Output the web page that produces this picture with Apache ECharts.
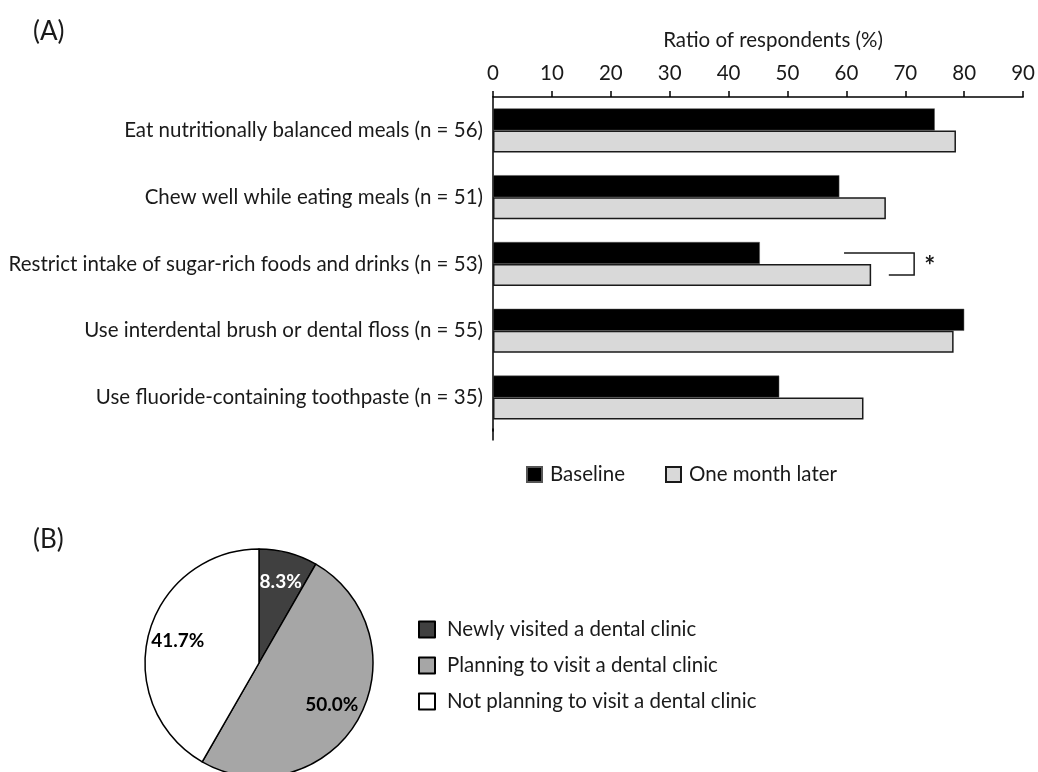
<!DOCTYPE html>
<html>
<head>
<meta charset="utf-8">
<script src="https://cdn.jsdelivr.net/npm/echarts@6/dist/echarts.min.js"></script>
<style>
html,body{margin:0;padding:0;background:#fff;}
#main{width:1038px;height:772px;}
</style>
</head>
<body>
<div id="main"></div>
<script>
// ---- data ----
const categories = [
  'Eat nutritionally balanced meals (n = 56)',
  'Chew well while eating meals (n = 51)',
  'Restrict intake of sugar-rich foods and drinks (n = 53)',
  'Use interdental brush or dental floss (n = 55)',
  'Use fluoride-containing toothpaste (n = 35)'
];
const baseline = [75.0, 58.8, 45.3, 80.0, 48.6];
const oneMonthLater = [78.6, 66.7, 64.2, 78.2, 62.9];
const xTicks = [0, 10, 20, 30, 40, 50, 60, 70, 80, 90];

const pieNames = [
  'Newly visited a dental clinic',
  'Planning to visit a dental clinic',
  'Not planning to visit a dental clinic'
];
const pieValues = [8.3, 50.0, 41.7];

// ---- style ----
const FONT = 'Lato';
const FS = 20.5;
const TXT = '#1a1a1a';
const pieColors = ['#404040', '#a6a6a6', '#ffffff'];
const pieLabelColors = ['#ffffff', '#000000', '#000000'];

const chart = echarts.init(document.getElementById('main'), null, {renderer: 'canvas'});

const pieData = pieNames.map((n, i) => ({
  name: n, value: pieValues[i],
  itemStyle: {color: pieColors[i]}
}));
const pieLabelData = pieNames.map((n, i) => ({
  name: n, value: pieValues[i],
  label: {color: pieLabelColors[i]}
}));

const option = {
  backgroundColor: '#fff',
  animation: false,
  textStyle: {fontFamily: FONT, color: TXT},
  title: [
    {text: '(A)', left: 28, top: 14, textStyle: {fontFamily: FONT, fontSize: 26, fontWeight: 'normal', color: TXT}},
    {text: '(B)', left: 28, top: 522, textStyle: {fontFamily: FONT, fontSize: 26, fontWeight: 'normal', color: TXT}}
  ],
  grid: {left: 493, top: 97, right: 10, height: 334, containLabel: false},
  xAxis: {
    type: 'value', position: 'top', min: 0, max: 90, interval: 10,
    name: 'Ratio of respondents (%)', nameLocation: 'middle', nameGap: 46,
    nameTextStyle: {fontFamily: FONT, fontSize: FS, color: TXT, padding: [0, 0, 0, 30]},
    axisLine: {show: true, lineStyle: {color: '#000', width: 1.5}},
    axisTick: {show: true, length: 6, lineStyle: {color: '#000', width: 1.5}},
    axisLabel: {fontFamily: FONT, fontSize: FS, color: TXT, margin: 13,
      formatter: v => (xTicks.indexOf(v) >= 0 ? String(v) : '')},
    splitLine: {show: false}
  },
  yAxis: {
    type: 'category', inverse: true, data: categories,
    axisLine: {show: true, lineStyle: {color: '#000', width: 1.5}},
    axisTick: {show: false},
    axisLabel: {fontFamily: FONT, fontSize: FS, color: TXT, margin: 10}
  },
  legend: [
    {
      data: ['Baseline', 'One month later'],
      left: 521, top: 459, itemWidth: 15, itemHeight: 15, itemGap: 40,
      icon: 'rect',
      textStyle: {fontFamily: FONT, fontSize: FS, color: TXT, padding: [0, 0, 0, 3]}
    },
    {
      data: pieNames, orient: 'vertical',
      left: 413, top: 614, itemWidth: 16, itemHeight: 16, itemGap: 15,
      icon: 'rect',
      textStyle: {fontFamily: FONT, fontSize: FS, color: TXT, padding: [0, 0, 0, 7]}
    }
  ],
  series: [
    {
      name: 'Baseline', type: 'bar', data: baseline,
      barWidth: 22, barGap: '0%', barCategoryGap: '34%',
      itemStyle: {color: '#000', borderColor: '#555', borderWidth: 0.5}
    },
    {
      name: 'One month later', type: 'bar', data: oneMonthLater,
      barWidth: 22, barGap: '0%',
      itemStyle: {color: '#d9d9d9', borderColor: '#1a1a1a', borderWidth: 1.5}
    },
    {
      name: 'pie', type: 'pie', center: [259, 663], radius: 114,
      startAngle: 90, clockwise: true,
      data: pieData,
      itemStyle: {borderColor: '#000', borderWidth: 1.5},
      label: {show: false}, labelLine: {show: false},
      emphasis: {disabled: true}
    },
    {
      name: 'pieLabels', type: 'pie', center: [259, 663], radius: [48, 114],
      startAngle: 90, clockwise: true, silent: true, legendHoverLink: false,
      data: pieLabelData,
      itemStyle: {color: 'rgba(0,0,0,0)', borderWidth: 0},
      label: {show: true, position: 'inside', fontFamily: FONT, fontSize: 19, fontWeight: 'bold',
        formatter: p => p.value.toFixed(1) + '%'},
      labelLine: {show: false},
      emphasis: {disabled: true}
    }
  ]
};
chart.setOption(option);

// significance bracket for "Restrict intake..." (data coordinates on x axis)
const bracketTopFrom = 59.6, bracketRight = 71.5, bracketBottomFrom = 67.2;
function addGraphics() {
  const cat = categories[2];
  const yc = chart.convertToPixel({yAxisIndex: 0}, cat);
  const yTop = yc - 11, yBot = yc + 11;
  const xa = chart.convertToPixel({xAxisIndex: 0}, bracketTopFrom);
  const xr = chart.convertToPixel({xAxisIndex: 0}, bracketRight);
  const xb = chart.convertToPixel({xAxisIndex: 0}, bracketBottomFrom);
  const x0 = chart.convertToPixel({xAxisIndex: 0}, 0);
  const yEnd = chart.convertToPixel({yAxisIndex: 0}, categories[categories.length - 1]) + 43;
  chart.setOption({
    graphic: [
      {type: 'polyline', shape: {points: [[xa, yTop], [xr, yTop], [xr, yBot], [xb, yBot]]},
        style: {stroke: '#1a1a1a', lineWidth: 1.5, fill: null}, silent: true},
      {type: 'text', x: xr + 10, y: yc - 10,
        style: {text: '*', font: 'bold 26px ' + FONT, fill: TXT}, silent: true},
      {type: 'line', shape: {x1: x0, y1: yEnd - 12, x2: x0, y2: yEnd},
        style: {stroke: '#000', lineWidth: 1.5}, silent: true}
    ]
  });
}
addGraphics();
</script>
</body>
</html>
